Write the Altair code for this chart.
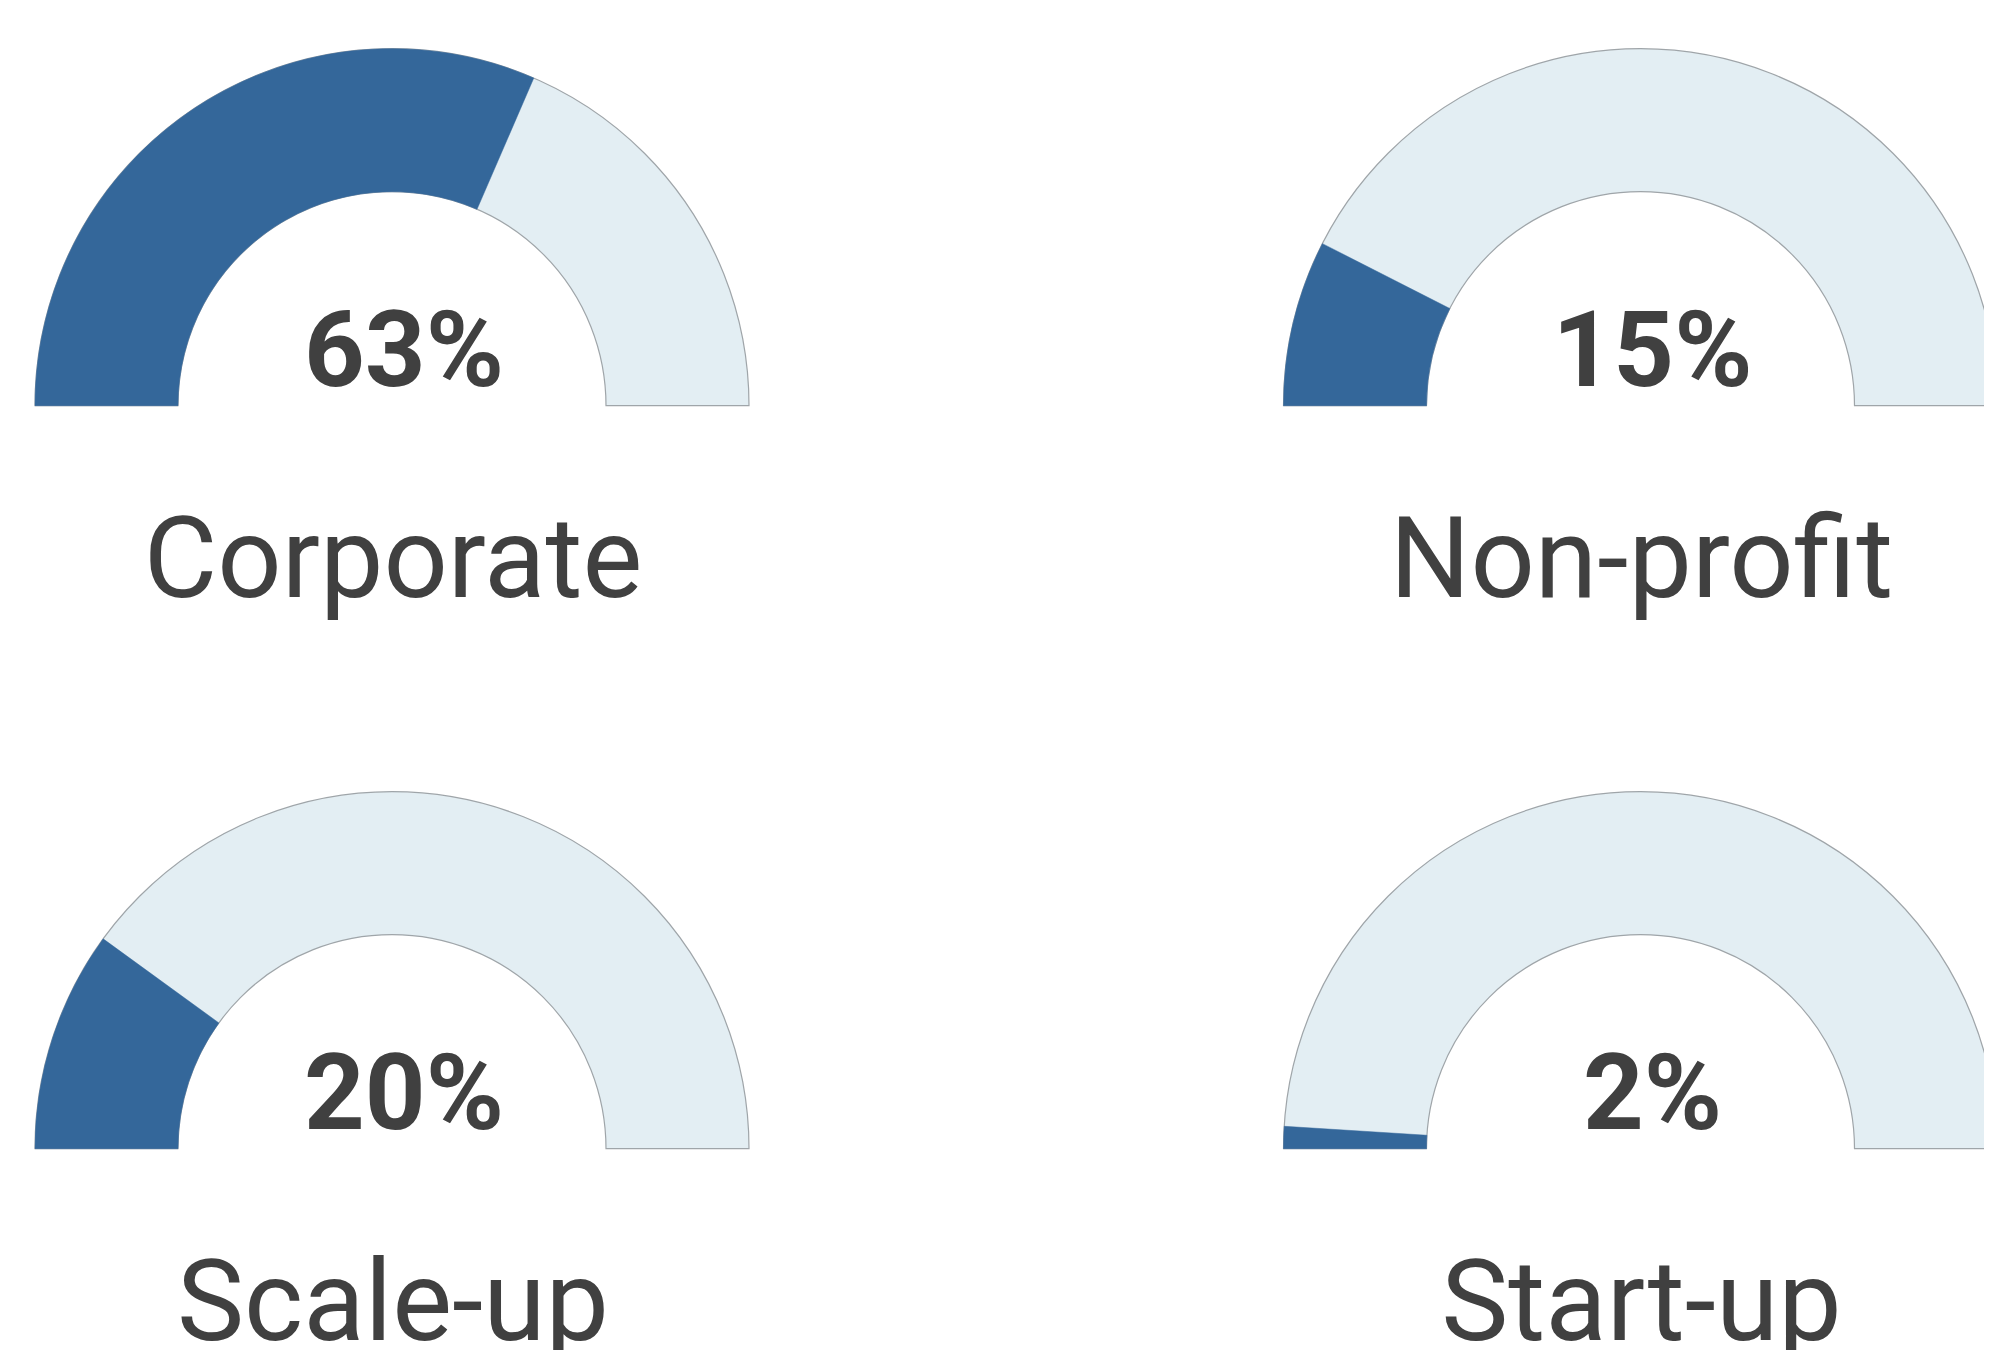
import math
import altair as alt
import pandas as pd

# ---- data ----
categories = ["Corporate", "Non-profit", "Scale-up", "Start-up"]
values = [63, 15, 20, 2]
grid_col = [0, 1, 0, 1]
grid_row = [0, 0, 1, 1]
scale_min = [0, 0, 0, 0]
scale_max = [100, 100, 100, 100]

df = pd.DataFrame({
    "category": categories,
    "value": values,
    "col": grid_col,
    "row": grid_row,
    "lo": scale_min,
    "hi": scale_max,
    "pct": [f"{v}%" for v in values],
})

W, H = 1976, 1342
BLUE = "#34679a"
LIGHT = "#e3eef3"
EDGE = "#9fa5a9"
TEXT = "#404040"
R_OUT, R_IN = 357, 214

x_enc = alt.X("col:Q", scale=alt.Scale(domain=[0, 1], range=[384, 1632.5]), axis=None)
y_enc = alt.Y("row:Q", scale=alt.Scale(domain=[0, 1], range=[397.7, 1140.7]), axis=None)
theta_scale = alt.Scale(domain=[0, 100], range=[1.5 * math.pi, 2.5 * math.pi])

base = alt.Chart(df)

track = base.mark_arc(radius=R_OUT, radius2=R_IN, stroke=EDGE, strokeWidth=1.2,
                      fill=LIGHT, clip=True).encode(
    x=x_enc, y=y_enc,
    theta=alt.Theta("lo:Q", scale=theta_scale),
    theta2="hi:Q",
)

fill = base.mark_arc(radius=R_OUT, radius2=R_IN, fill=BLUE, stroke=BLUE,
                     strokeWidth=0.5, clip=True).encode(
    x=x_enc, y=y_enc,
    theta=alt.Theta("lo:Q", scale=theta_scale),
    theta2="value:Q",
)

pct_text = base.mark_text(font="Roboto", fontWeight="bold", fontSize=106,
                          color=TEXT, align="center", baseline="alphabetic",
                          dx=12, dy=-20, clip=True).encode(
    x=x_enc, y=y_enc, text="pct:N",
)

label_text = base.mark_text(font="Roboto", fontWeight="normal", fontSize=113,
                            color=TEXT, align="center", baseline="alphabetic",
                            dx=1, dy=191, clip=True).encode(
    x=x_enc, y=y_enc, text="category:N",
)

chart = alt.layer(track, fill, pct_text, label_text).properties(
    width=W, height=H,
    autosize=alt.AutoSizeParams(type="none"),
    padding=0,
    background="white",
).configure_view(stroke=None)

chart.save("out.html", embed_options={"renderer": "svg", "actions": False})
